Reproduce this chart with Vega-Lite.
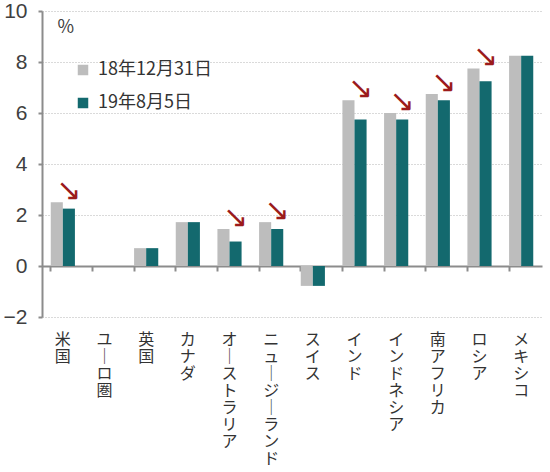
{
  "$schema": "https://vega.github.io/schema/vega-lite/v6.json",
  "width": 500,
  "height": 306,
  "padding": {"left": 3, "top": 0, "right": 7, "bottom": 0},
  "background": "white",
  "config": {
    "view": {"stroke": null},
    "font": "Noto Sans CJK JP"
  },
  "data": {
    "values": [
      {"country": "米国", "series": "18年12月31日", "value": 2.5},
      {"country": "米国", "series": "19年8月5日", "value": 2.25},
      {"country": "ユーロ圏", "series": "18年12月31日", "value": 0},
      {"country": "ユーロ圏", "series": "19年8月5日", "value": 0},
      {"country": "英国", "series": "18年12月31日", "value": 0.7},
      {"country": "英国", "series": "19年8月5日", "value": 0.7},
      {"country": "カナダ", "series": "18年12月31日", "value": 1.72},
      {"country": "カナダ", "series": "19年8月5日", "value": 1.72},
      {"country": "オーストラリア", "series": "18年12月31日", "value": 1.45},
      {"country": "オーストラリア", "series": "19年8月5日", "value": 0.96},
      {"country": "ニュージーランド", "series": "18年12月31日", "value": 1.72},
      {"country": "ニュージーランド", "series": "19年8月5日", "value": 1.45},
      {"country": "スイス", "series": "18年12月31日", "value": -0.78},
      {"country": "スイス", "series": "19年8月5日", "value": -0.78},
      {"country": "インド", "series": "18年12月31日", "value": 6.5},
      {"country": "インド", "series": "19年8月5日", "value": 5.75},
      {"country": "インドネシア", "series": "18年12月31日", "value": 6.0},
      {"country": "インドネシア", "series": "19年8月5日", "value": 5.75},
      {"country": "南アフリカ", "series": "18年12月31日", "value": 6.75},
      {"country": "南アフリカ", "series": "19年8月5日", "value": 6.5},
      {"country": "ロシア", "series": "18年12月31日", "value": 7.75},
      {"country": "ロシア", "series": "19年8月5日", "value": 7.25},
      {"country": "メキシコ", "series": "18年12月31日", "value": 8.25},
      {"country": "メキシコ", "series": "19年8月5日", "value": 8.25}
    ]
  },
  "encoding": {
    "x": {
      "field": "country",
      "type": "nominal",
      "sort": null,
      "scale": {"paddingInner": 0.42, "paddingOuter": 0.21},
      "axis": {
        "title": null,
        "offset": -51,
        "domainColor": "#8c8c8c",
        "domainWidth": 2,
        "tickColor": "#8c8c8c",
        "tickWidth": 2,
        "tickSize": 5,
        "bandPosition": 0,
        "labelAngle": 0,
        "labelAlign": "center",
        "labelBaseline": "top",
        "labelPadding": 60,
        "labelFontSize": 16,
        "labelLineHeight": 17,
        "labelColor": "#333333",
        "labelExpr": "split(join(split(datum.label, 'ー'), '│'), '')"
      }
    },
    "y": {
      "field": "value",
      "type": "quantitative",
      "scale": {"domain": [-2, 10], "nice": false},
      "axis": {
        "values": [-2, 0, 2, 4, 6, 8, 10],
        "title": "%",
        "titleAngle": 0,
        "titleX": 15,
        "titleY": 7,
        "titleAlign": "left",
        "titleBaseline": "top",
        "titleFontSize": 18,
        "titleFontWeight": "normal",
        "titleColor": "#404040",
        "domainColor": "#8c8c8c",
        "domainWidth": 2,
        "tickColor": "#8c8c8c",
        "tickWidth": 2,
        "tickSize": 4,
        "labelPadding": 11,
        "labelFontSize": 21,
        "labelFont": "Liberation Sans",
        "labelColor": "#404040",
        "gridColor": "#b5b5b5",
        "gridDash": [1, 2],
        "gridWidth": 1
      }
    }
  },
  "layer": [
    {
      "mark": {"type": "bar"},
      "encoding": {
        "xOffset": {"field": "series", "type": "nominal", "sort": ["18年12月31日", "19年8月5日"]},
        "color": {
          "field": "series",
          "type": "nominal",
          "scale": {"domain": ["18年12月31日", "19年8月5日"], "range": ["#bdbdbd", "#13696e"]},
          "legend": {
            "title": null,
            "orient": "none",
            "legendX": 32,
            "legendY": 50,
            "symbolType": "square",
            "symbolSize": 110,
            "symbolStrokeWidth": 0,
            "labelFontSize": 18,
            "labelColor": "#333333",
            "labelOffset": 6,
            "rowPadding": 15
          }
        }
      }
    },
    {
      "transform": [
        {"pivot": "series", "value": "value", "groupby": ["country"]},
        {"filter": "datum['19年8月5日'] < datum['18年12月31日']"}
      ],
      "mark": {
        "type": "text",
        "text": "↘",
        "font": "DejaVu Sans",
        "fontSize": 30,
        "color": "#9b1b1b",
        "baseline": "bottom",
        "dx": 6,
        "dy": 4
      },
      "encoding": {
        "y": {"field": "18年12月31日", "type": "quantitative"}
      }
    }
  ]
}
